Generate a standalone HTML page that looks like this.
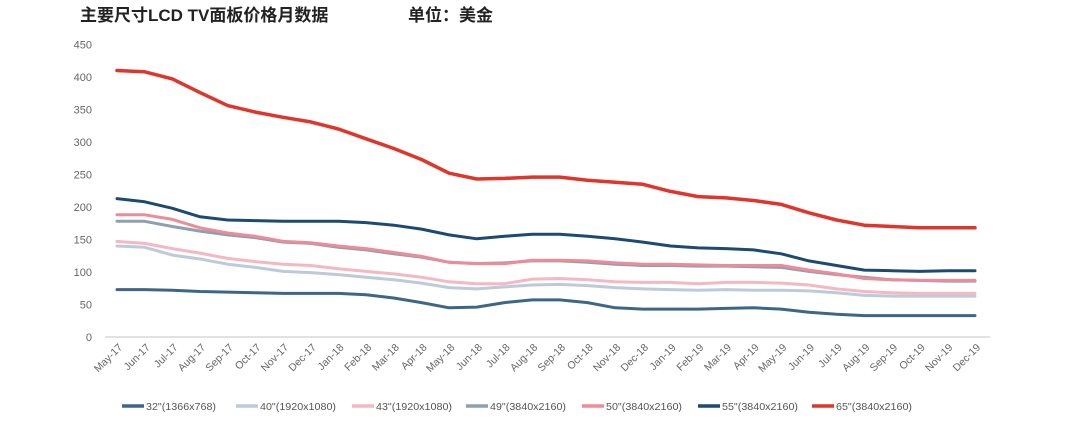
<!DOCTYPE html>
<html><head><meta charset="utf-8">
<style>
body{margin:0;background:#fff;width:1080px;height:419px;overflow:hidden;font-family:"Liberation Sans","Noto Sans CJK SC",sans-serif}
</style></head>
<body>
<svg id="chart" width="1080" height="419" xmlns="http://www.w3.org/2000/svg">
<text x="80" y="21" font-size="17" font-weight="bold" fill="#222" font-family="Liberation Sans, Noto Sans CJK SC, sans-serif">主要尺寸LCD TV面板价格月数据</text>
<text x="408" y="21" font-size="17" font-weight="bold" fill="#222" font-family="Liberation Sans, Noto Sans CJK SC, sans-serif">单位：美金</text>
<g id="grid"></g><g id="lines"></g><g id="xl"></g><g id="legend"></g>
</svg>
<script>
const months=["May-17","Jun-17","Jul-17","Aug-17","Sep-17","Oct-17","Nov-17","Dec-17","Jan-18","Feb-18","Mar-18","Apr-18","May-18","Jun-18","Jul-18","Aug-18","Sep-18","Oct-18","Nov-18","Dec-18","Jan-19","Feb-19","Mar-19","Apr-19","May-19","Jun-19","Jul-19","Aug-19","Sep-19","Oct-19","Nov-19","Dec-19"];
const yTicks=[0,50,100,150,200,250,300,350,400,450];
const seriesNames=['32"(1366x768)','40"(1920x1080)','43"(1920x1080)','49"(3840x2160)','50"(3840x2160)','55"(3840x2160)','65"(3840x2160)'];
const s32=[73,73,72,70,69,68,67,67,67,65,60,53,45,46,53,57,57,53,45,43,43,43,44,45,43,38,35,33,33,33,33,33];
const s40=[140,138,126,120,112,107,101,99,96,92,88,83,76,74,77,80,81,79,76,74,73,72,73,72,72,71,68,64,63,63,63,63];
const s43=[147,144,136,129,121,116,112,110,105,101,97,92,85,82,82,89,90,88,85,84,84,82,84,84,83,80,74,70,68,67,67,67];
const s49=[178,178,170,163,157,153,146,144,138,134,128,123,115,113,114,117,117,115,112,110,110,109,109,108,107,101,96,92,88,87,86,86];
const s50=[188,188,181,168,160,155,147,145,140,136,130,124,115,113,113,118,118,117,114,112,112,111,110,110,110,103,97,90,88,87,87,87];
const s55=[213,208,198,185,180,179,178,178,178,176,172,166,157,151,155,158,158,155,151,146,140,137,136,134,128,117,110,103,102,101,102,102];
const s65=[410,408,397,376,356,346,338,331,320,305,290,273,252,243,244,246,246,241,238,235,224,216,214,210,204,191,180,172,170,168,168,168];
const allSeries=[s32,s40,s43,s49,s50,s55,s65];
const colors=["#3e6687","#bccadb","#f5b8c1","#8d9fb0","#ee8b98","#1d4a73","#e0352b"];
const widths=[3,3,3,3,3,3,3.5];
const NS="http://www.w3.org/2000/svg";
const y0=337,yTop=44.5,x0=117,x1=975;
const Y=v=>y0-(v/450)*(y0-yTop);
const X=i=>x0+i*(x1-x0)/(months.length-1);
function mk(t,a,p){const e=document.createElementNS(NS,t);for(const k in a)e.setAttribute(k,a[k]);p.appendChild(e);return e;}
const grid=document.getElementById('grid');
yTicks.forEach(v=>{
  const t=mk('text',{x:92,y:Y(v)+4,'text-anchor':'end','font-size':11,fill:'#666'},grid);
  
  
  t.textContent=v;
});
const ax=mk('line',{x1:105,x2:990,y1:y0,y2:y0,stroke:'#d9d9d9','stroke-width':1.5},grid);


const xl=document.getElementById('xl');
months.forEach((m,i)=>{
  const t=mk('text',{x:0,y:0,'text-anchor':'end','font-size':10.5,fill:'#666',transform:`translate(${X(i)+6},${y0+11}) rotate(-45)`},xl);
  
  
  t.textContent=m;
});
const lines=document.getElementById('lines');
allSeries.forEach((s,k)=>{
  const d=s.map((v,i)=>(i?'L':'M')+X(i).toFixed(1)+','+Y(v).toFixed(1)).join('');
  const p=mk('path',{d:d,fill:'none',stroke:colors[k],'stroke-width':widths[k],'stroke-linejoin':'round','stroke-linecap':'round'},lines);
  
  
});
const lg=document.getElementById('legend');
const lx=[122,236,352,466,582,698,812];
seriesNames.forEach((n,k)=>{
  const g=mk('g',{},lg);
  
  
  mk('line',{x1:lx[k],x2:lx[k]+22,y1:406,y2:406,stroke:colors[k],'stroke-width':3.5},g);
  const t=mk('text',{x:lx[k]+24,y:410,'font-size':10.5,fill:'#555',textLength:k===0?70:76,lengthAdjust:'spacingAndGlyphs'},g);
  t.textContent=n;
});
</script>
</body></html>
